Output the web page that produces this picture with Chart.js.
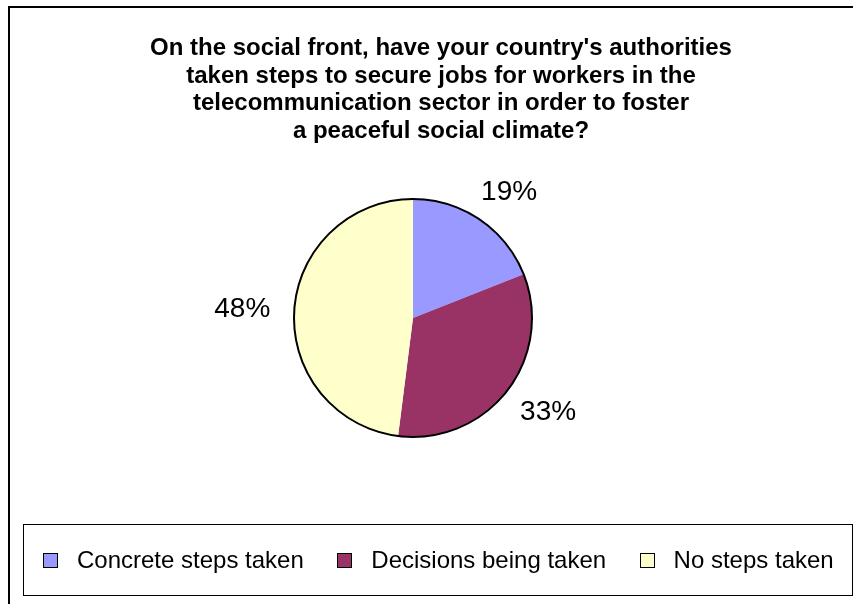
<!DOCTYPE html>
<html><head><meta charset="utf-8">
<script src="https://cdn.jsdelivr.net/npm/chart.js@4/dist/chart.umd.min.js"></script>
<style>html,body{margin:0;padding:0;background:#fff;}canvas{display:block;}</style>
</head><body>
<canvas id="c" width="857" height="604"></canvas>
<script>
const categories = ['Concrete steps taken', 'Decisions being taken', 'No steps taken'];
const values = [19, 33, 48];
const valueLabels = ['19%', '33%', '48%'];
const sliceColors = ['#9999FF', '#993366', '#FFFFCC'];
const titleLines = [
  "On the social front, have your country's authorities",
  "taken steps to secure jobs for workers in the",
  "telecommunication sector in order to foster",
  "a peaceful social climate?"
];
const FONT = "'Liberation Sans', Arial, sans-serif";

const decor = {
  id: 'decor',
  afterDraw(chart) {
    const ctx = chart.ctx;
    ctx.save();
    // outer frame (left and top edges visible)
    ctx.strokeStyle = '#000';
    ctx.lineWidth = 2;
    ctx.beginPath();
    ctx.moveTo(9, 604); ctx.lineTo(9, 7); ctx.lineTo(853, 7);
    ctx.stroke();

    // title
    ctx.fillStyle = '#000';
    ctx.font = 'bold 24px ' + FONT;
    ctx.textAlign = 'center';
    ctx.textBaseline = 'alphabetic';
    titleLines.forEach((t, i) => ctx.fillText(t, 441, 55 + i * 27.5));

    // pie outline and value labels
    const meta = chart.getDatasetMeta(0);
    const a0 = meta.data[0];
    ctx.beginPath();
    ctx.arc(a0.x, a0.y, a0.outerRadius, 0, Math.PI * 2);
    ctx.lineWidth = 2;
    ctx.strokeStyle = '#000';
    ctx.stroke();

    ctx.font = '28px ' + FONT;
    ctx.textBaseline = 'middle';
    ctx.textAlign = 'center';
    meta.data.forEach((arc, i) => {
      const mid = (arc.startAngle + arc.endAngle) / 2;
      const cx = Math.cos(mid), cy = Math.sin(mid);
      const d = arc.outerRadius + 24;
      const w = ctx.measureText(valueLabels[i]).width;
      const x = arc.x + cx * d + cx * w / 2;
      const y = arc.y + cy * d + cy * 10;
      ctx.fillText(valueLabels[i], x, y + 1);
    });

    // legend
    ctx.lineWidth = 1;
    ctx.strokeStyle = '#000';
    ctx.strokeRect(23.5, 524.5, 829, 71);
    ctx.font = '24px ' + FONT;
    ctx.textAlign = 'left';
    ctx.textBaseline = 'middle';
    const sq = 15, gap = 19, itemGap = 33.5;
    let total = 0;
    const widths = categories.map(c => ctx.measureText(c).width);
    widths.forEach((w, i) => { total += sq + gap + w + (i < widths.length - 1 ? itemGap : 0); });
    let x = Math.round(438 - total / 2);
    const ly = 560;
    categories.forEach((c, i) => {
      const sx = Math.round(x);
      ctx.fillStyle = sliceColors[i];
      ctx.fillRect(sx, ly - 7, sq, sq);
      ctx.strokeRect(sx + 0.5, ly - 7 + 0.5, sq - 1, sq - 1);
      ctx.fillStyle = '#000';
      ctx.fillText(c, x + sq + gap, ly + 1);
      x += sq + gap + widths[i] + itemGap;
    });
    ctx.restore();
  }
};

new Chart(document.getElementById('c'), {
  type: 'pie',
  data: {
    labels: categories,
    datasets: [{ data: values, backgroundColor: sliceColors, borderWidth: 0, hoverOffset: 0, offset: 0 }]
  },
  options: {
    responsive: false,
    animation: false,
    events: [],
    layout: { padding: { left: 294, right: 857 - 532, top: 199, bottom: 604 - 437 } },
    plugins: { legend: { display: false }, title: { display: false }, tooltip: { enabled: false } }
  },
  plugins: [decor]
});
</script>
</body></html>
